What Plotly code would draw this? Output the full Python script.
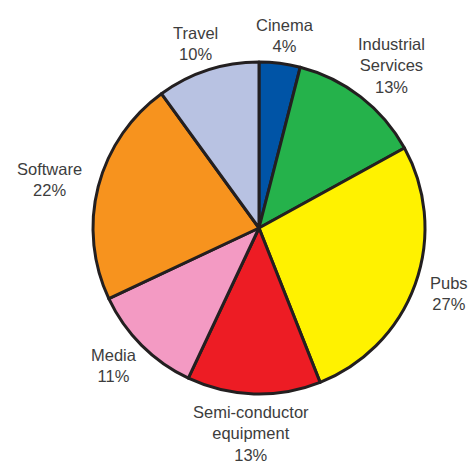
import math
import plotly.graph_objects as go

labels = ["Cinema", "Industrial<br>Services", "Pubs", "Semi-conductor<br>equipment", "Media", "Software", "Travel"]
values = [4, 13, 27, 13, 11, 22, 10]
colors = ["#0054a6", "#25b24b", "#fff200", "#ed1c24", "#f39ac3", "#f7931e", "#b8c2e2"]

W, H = 470, 464
L, T = 93, 62
PW = PH = 332
R = W - L - PW
B = H - T - PH
RAD = PW / 2.0

fig = go.Figure(go.Pie(
    labels=labels,
    values=values,
    marker=dict(colors=colors, line=dict(color="#231f20", width=3)),
    sort=False,
    direction="clockwise",
    rotation=0,
    textinfo="none",
    hoverinfo="label+percent",
    showlegend=False,
))

# approximate Arial-like glyph widths (em) to estimate label box widths
NARROW = set("ijl")
SEMI = set("ftrI-")
WIDE = set("mwMW")


def text_width(s, fs):
    em = 0.0
    for ch in s:
        if ch in NARROW:
            em += 0.22
        elif ch in SEMI:
            em += 0.31
        elif ch in WIDE:
            em += 0.8
        elif ch == "%":
            em += 0.89
        elif ch.isupper():
            em += 0.66
        elif ch in "scv":
            em += 0.5
        else:
            em += 0.56
    return em * fs


total = sum(values)
cum = 0
annotations = []
FS = 16.5
DX, DY = RAD + 17, RAD + 7
for lab, v in zip(labels, values):
    mid = (cum + v / 2) / total * 2 * math.pi
    cum += v
    pct = f"{round(v / total * 100)}%"
    lines = lab.split("<br>") + [pct]
    w = max(text_width(s, FS) for s in lines)
    h = len(lines) * FS * 1.3
    s, c = math.sin(mid), math.cos(mid)
    cx = s * (DX + w / 2)
    cy = c * (DY + h / 2)
    annotations.append(dict(
        x=0.5 + cx / PW, y=0.5 + cy / PH, xref="paper", yref="paper",
        text=lab + "<br>" + pct,
        showarrow=False, xanchor="center", yanchor="middle", align="center",
        font=dict(family="Liberation Sans, Arial, sans-serif", size=FS, color="#3d3d3d"),
    ))

fig.update_layout(
    width=W, height=H,
    margin=dict(l=L, r=R, t=T, b=B, pad=0),
    paper_bgcolor="white", plot_bgcolor="white",
    annotations=annotations,
)

# remove the default page margin so the figure fills the window exactly
fig.write_html(
    "out.html",
    config={"displayModeBar": False},
    post_script="document.body.style.margin='0';"
                "document.documentElement.style.overflow='hidden';",
)
